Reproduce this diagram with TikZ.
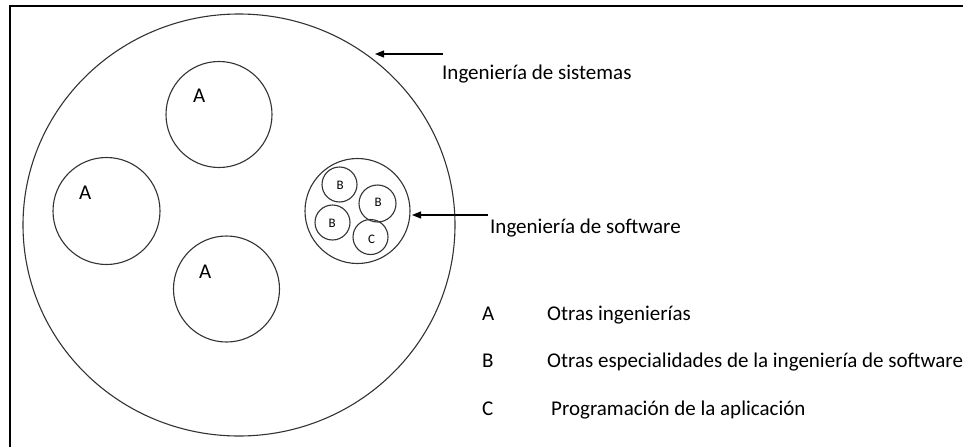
\documentclass[tikz,border=0pt]{standalone}
\usepackage{fontspec}
\setmainfont{Carlito}
\usetikzlibrary{shapes.geometric,arrows.meta}
\begin{document}
\begin{tikzpicture}[x=1pt,y=-1pt,
  ring/.style={draw=black!80,line width=1.1pt,circle,inner sep=0pt,outer sep=0pt},
  bigring/.style={draw=black!80,line width=1.1pt,ellipse,inner sep=0pt,outer sep=0pt},
  txt/.style={anchor=base west,inner sep=0pt,font=\fontsize{21}{24}\selectfont,text=black},
  small/.style={anchor=base west,inner sep=0pt,font=\fontsize{13}{15}\selectfont,text=black},
  pointer/.style={line width=1.2pt,-{Triangle[length=9pt,width=7pt]}}]
\useasboundingbox (0,0) rectangle (963,447);
\fill[white] (0,0) rectangle (963,447);
% frame
\draw[line width=2pt] (10,447) coordinate (fbl) -- (10,6) coordinate (ftl) -- (963,6) coordinate (ftr);
% big circle
\node[bigring,minimum width=432,minimum height=422] (big) at (239,225) {};
% A circles
\node[ring,minimum size=107] (a1) at (106.5,211) {};
\node[ring,minimum size=106] (a2) at (219,114.5) {};
\node[ring,minimum size=106] (a3) at (226.5,289) {};
\node[txt] (la1) at (79,199) {A};
\node[txt] (la2) at (193,102) {A};
\node[txt] (la3) at (199,278) {A};
% software circle
\node[ring,minimum size=105] (sw) at (357.5,211) {};
\node[ring,minimum size=35] (b1) at (339.5,184.5) {};
\node[ring,minimum size=37] (b2) at (377.5,203.5) {};
\node[ring,minimum size=35] (b3) at (332.5,222.5) {};
\node[ring,minimum size=35] (c1) at (370.5,237) {};
\node[small] (lb1) at (336.5,189.5) {B};
\node[small] (lb2) at (374.5,206) {B};
\node[small] (lb3) at (328.5,227.5) {B};
\node[small] (lc1) at (368,243) {C};
% arrows and labels
\coordinate (sysstart) at (443,54);
\draw[pointer] (sysstart) -- (375,54);
\node[txt] (sys) at (442,79) {Ingeniería de sistemas};
\coordinate (swstart) at (488,215);
\draw[pointer] (swstart) -- ([xshift=2pt]sw.east |- swstart);
\node[txt] (swt) at (490,233) {Ingeniería de software};
% legend
\node[txt] (ka) at (482,320) {A};
\node[txt] (kat) at (547,320) {Otras ingenierías};
\node[txt] (kb) at (482,367) {B};
\node[txt] (kbt) at (547,367) {Otras especialidades de la ingeniería de software};
\node[txt] (kc) at (482,415) {C};
\node[txt] (kct) at (551,415) {Programación de la aplicación};
\end{tikzpicture}
\end{document}
